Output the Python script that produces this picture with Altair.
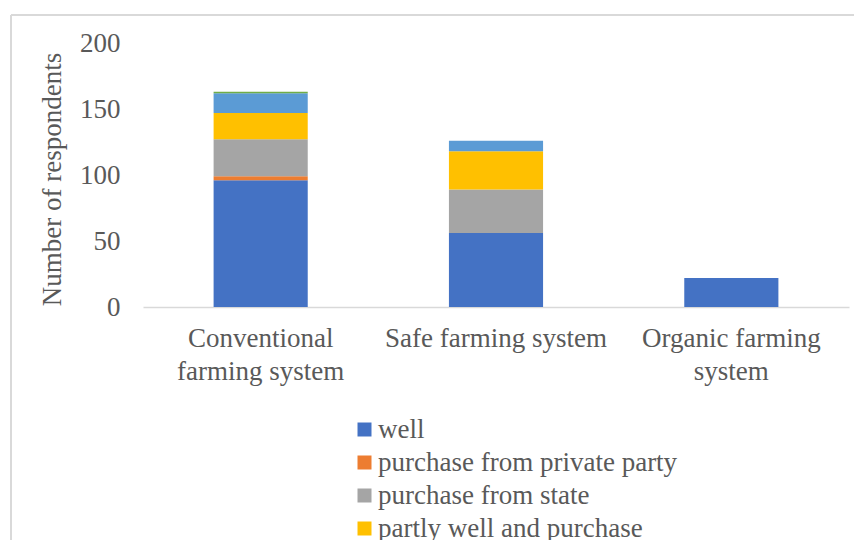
import altair as alt
import pandas as pd

systems = ["Conventional farming system", "Safe farming system", "Organic farming system"]
system_lines = {
    "Conventional farming system": ["Conventional", "farming system"],
    "Safe farming system": ["Safe farming system"],
    "Organic farming system": ["Organic farming", "system"],
}
sources = ["well", "purchase from private party", "purchase from state",
           "partly well and purchase", "river water", "other"]
colors = ["#4472C4", "#ED7D31", "#A5A5A5", "#FFC000", "#5B9BD5", "#70AD47"]

well = [96, 56, 22]
private_party = [3, 0, 0]
state = [28, 33, 0]
partly = [20, 29, 0]
river = [15, 8, 0]
other = [1, 0, 0]
y_ticks = [0, 50, 100, 150, 200]

series = [well, private_party, state, partly, river, other]
rows = []
for si, (name, vals) in enumerate(zip(sources, series)):
    for ci, sys_name in enumerate(systems):
        rows.append({"system": sys_name, "source": name, "idx": si, "value": vals[ci]})
df = pd.DataFrame(rows)

label_expr = " : ".join(
    [f"datum.value == '{k}' ? {v!r}" for k, v in system_lines.items()] + ["datum.value"]
)

FONT = "Liberation Serif"
TXT = "#595959"
FS = 27

bars = alt.Chart(df).mark_bar().encode(
    x=alt.X("system:N", sort=systems,
            scale=alt.Scale(paddingInner=0.6, paddingOuter=0.3),
            axis=alt.Axis(title=None, labelAngle=0, labelExpr=label_expr,
                          labelFont=FONT, labelFontSize=FS, labelColor=TXT,
                          labelLineHeight=33, labelPadding=18, labelBaseline="top",
                          labelLimit=400, labelOverlap=False,
                          ticks=False, domainColor="#D9D9D9", domainWidth=1.5)),
    y=alt.Y("value:Q", stack="zero",
            scale=alt.Scale(domain=[0, 200], nice=False),
            axis=alt.Axis(title="Number of respondents", values=y_ticks,
                          grid=False, ticks=False, domain=False,
                          labelFont=FONT, labelFontSize=FS, labelColor=TXT,
                          labelPadding=23,
                          titleFont=FONT, titleFontSize=FS, titleColor=TXT,
                          titleFontWeight="normal", titleAngle=-90,
                          titleX=-83, titleY=136, titleAlign="center",
                          titleBaseline="alphabetic")),
    color=alt.Color("source:N", sort=sources,
                    scale=alt.Scale(domain=sources, range=colors),
                    legend=alt.Legend(title=None, orient="none", legendX=208, legendY=373,
                                      values=sources[:4], direction="vertical",
                                      symbolType="square", symbolSize=196,
                                      symbolStrokeWidth=0, labelFont=FONT,
                                      labelFontSize=FS, labelColor=TXT,
                                      labelOffset=0, rowPadding=5, padding=0,
                                      labelLimit=600)),
    order=alt.Order("idx:Q", sort="ascending"),
)

border_left = alt.Chart(df).mark_rule(color="#D9D9D9", strokeWidth=2, clip=False).encode(
    x=alt.value(-132), y=alt.value(-28), y2=alt.value(520)
)
border_top = alt.Chart(df).mark_rule(color="#D9D9D9", strokeWidth=2, clip=False).encode(
    x=alt.value(-132), x2=alt.value(720), y=alt.value(-28)
)

chart = alt.layer(border_left, border_top, bars).properties(
    width=706, height=264,
    autosize=alt.AutoSizeParams(type="none"),
    padding={"left": 135, "top": 35, "right": 5, "bottom": 233},
    background="white",
).configure_view(strokeWidth=0, stroke=None)

chart.save("out.html", embed_options={"renderer": "svg", "actions": False})
